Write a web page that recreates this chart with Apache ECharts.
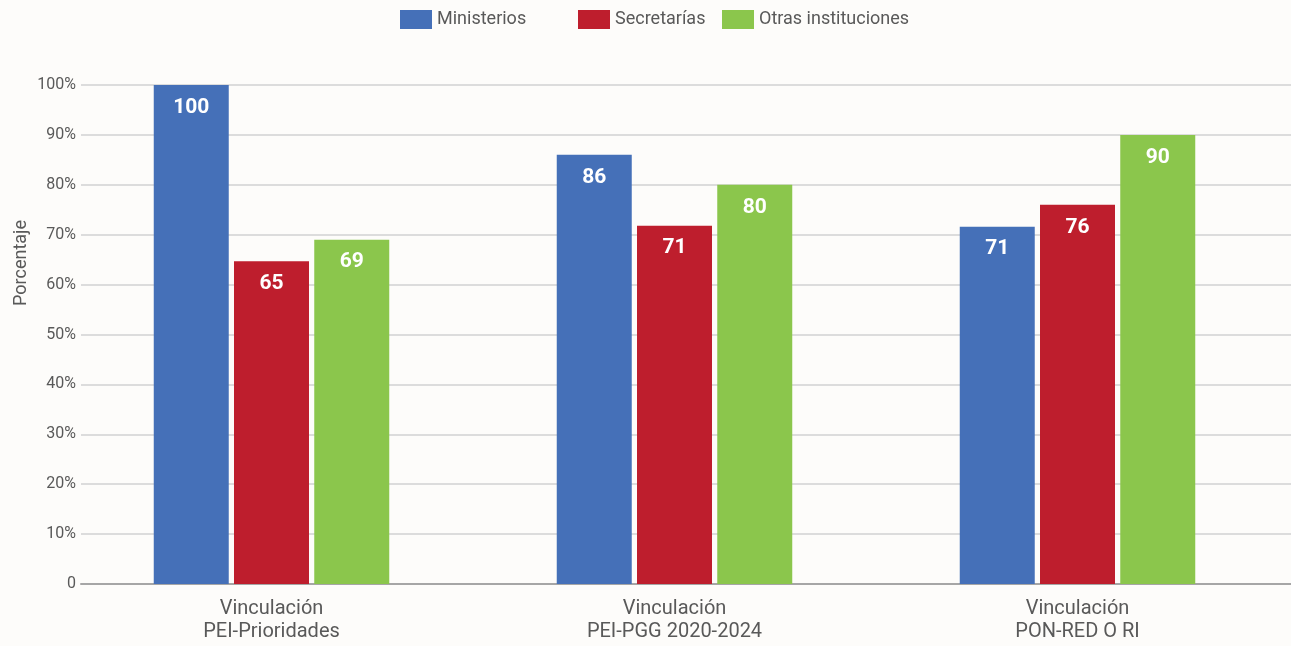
<!DOCTYPE html>
<html>
<head>
<meta charset="utf-8">
<script src="https://cdn.jsdelivr.net/npm/echarts@6/dist/echarts.min.js"></script>
<style>
html,body{margin:0;padding:0;background:#fdfcfa;}
#chart{width:1291px;height:646px;}
</style>
</head>
<body>
<div id="chart"></div>
<script>
const categories = ['Vinculación\nPEI-Prioridades', 'Vinculación\nPEI-PGG 2020-2024', 'Vinculación\nPON-RED O RI'];
const seriesNames = ['Ministerios', 'Secretarías', 'Otras instituciones'];
const ministerios = [100, 86, 71.6];
const secretarias = [64.7, 71.8, 76];
const otras = [69, 80, 90];
const ministeriosLabels = ['100', '86', '71'];
const secretariasLabels = ['65', '71', '76'];
const otrasLabels = ['69', '80', '90'];
const yTicks = [0, 10, 20, 30, 40, 50, 60, 70, 80, 90, 100];

const colors = ['#4570b8', '#be1e2d', '#8bc64c'];
const fam = 'Roboto, "Liberation Sans", sans-serif';
const textColor = '#595959';

const chart = echarts.init(document.getElementById('chart'), null, {renderer: 'canvas'});

function mkLegend(i, left) {
  return {
    left: left, top: 5,
    itemWidth: 32, itemHeight: 19, itemGap: 0,
    data: [{name: seriesNames[i], icon: 'rect'}],
    textStyle: {fontFamily: fam, fontSize: 18, color: textColor},
    selectedMode: false
  };
}

function mkSeries(i, data, labels) {
  return {
    name: seriesNames[i],
    type: 'bar',
    xAxisIndex: 1, yAxisIndex: 1,
    data: data,
    barWidth: 75,
    barGap: '7%',
    itemStyle: {color: colors[i]},
    label: {
      show: true,
      position: 'insideTop',
      distance: 12,
      color: '#ffffff',
      fontFamily: fam,
      fontWeight: 'bold',
      fontSize: 21,
      formatter: p => labels[p.dataIndex]
    }
  };
}

const option = {
  backgroundColor: '#fdfcfa',
  animation: false,
  legend: [mkLegend(0, 395), mkLegend(1, 573), mkLegend(2, 717)],
  grid: [
    {left: 81, right: 0, top: 85, bottom: 62},
    {left: 70, right: 12, top: 85, bottom: 62}
  ],
  xAxis: [
    {
      gridIndex: 0, type: 'value', min: 0, max: 1,
      axisLine: {show: true, lineStyle: {color: '#a6a6a6', width: 2}},
      axisTick: {show: false}, axisLabel: {show: false}, splitLine: {show: false}
    },
    {
      gridIndex: 1, type: 'category', data: categories,
      axisLine: {show: false}, axisTick: {show: false},
      axisLabel: {
        margin: 13, fontFamily: fam, fontSize: 20, lineHeight: 23,
        color: textColor, align: 'center'
      }
    }
  ],
  yAxis: [
    {
      gridIndex: 0, type: 'value', min: 0, max: 100, interval: 10,
      axisLine: {show: false}, axisTick: {show: false},
      axisLabel: {
        margin: 5, fontFamily: fam, fontSize: 16, color: textColor,
        formatter: v => yTicks.indexOf(v) === 0 ? '0' : v + '%'
      },
      splitLine: {show: true, lineStyle: {color: '#dcdcdc', width: 2}}
    },
    {
      gridIndex: 1, type: 'value', min: 0, max: 100, show: false,
      splitLine: {show: false}
    }
  ],
  graphic: [{
    type: 'text',
    x: 21, y: 263,
    rotation: Math.PI / 2,
    style: {
      text: 'Porcentaje',
      textAlign: 'center', textVerticalAlign: 'middle',
      align: 'center', verticalAlign: 'middle',
      fill: textColor,
      font: '18px ' + fam
    }
  }],
  series: [
    mkSeries(0, ministerios, ministeriosLabels),
    mkSeries(1, secretarias, secretariasLabels),
    mkSeries(2, otras, otrasLabels)
  ]
};
chart.setOption(option);
</script>
</body>
</html>
